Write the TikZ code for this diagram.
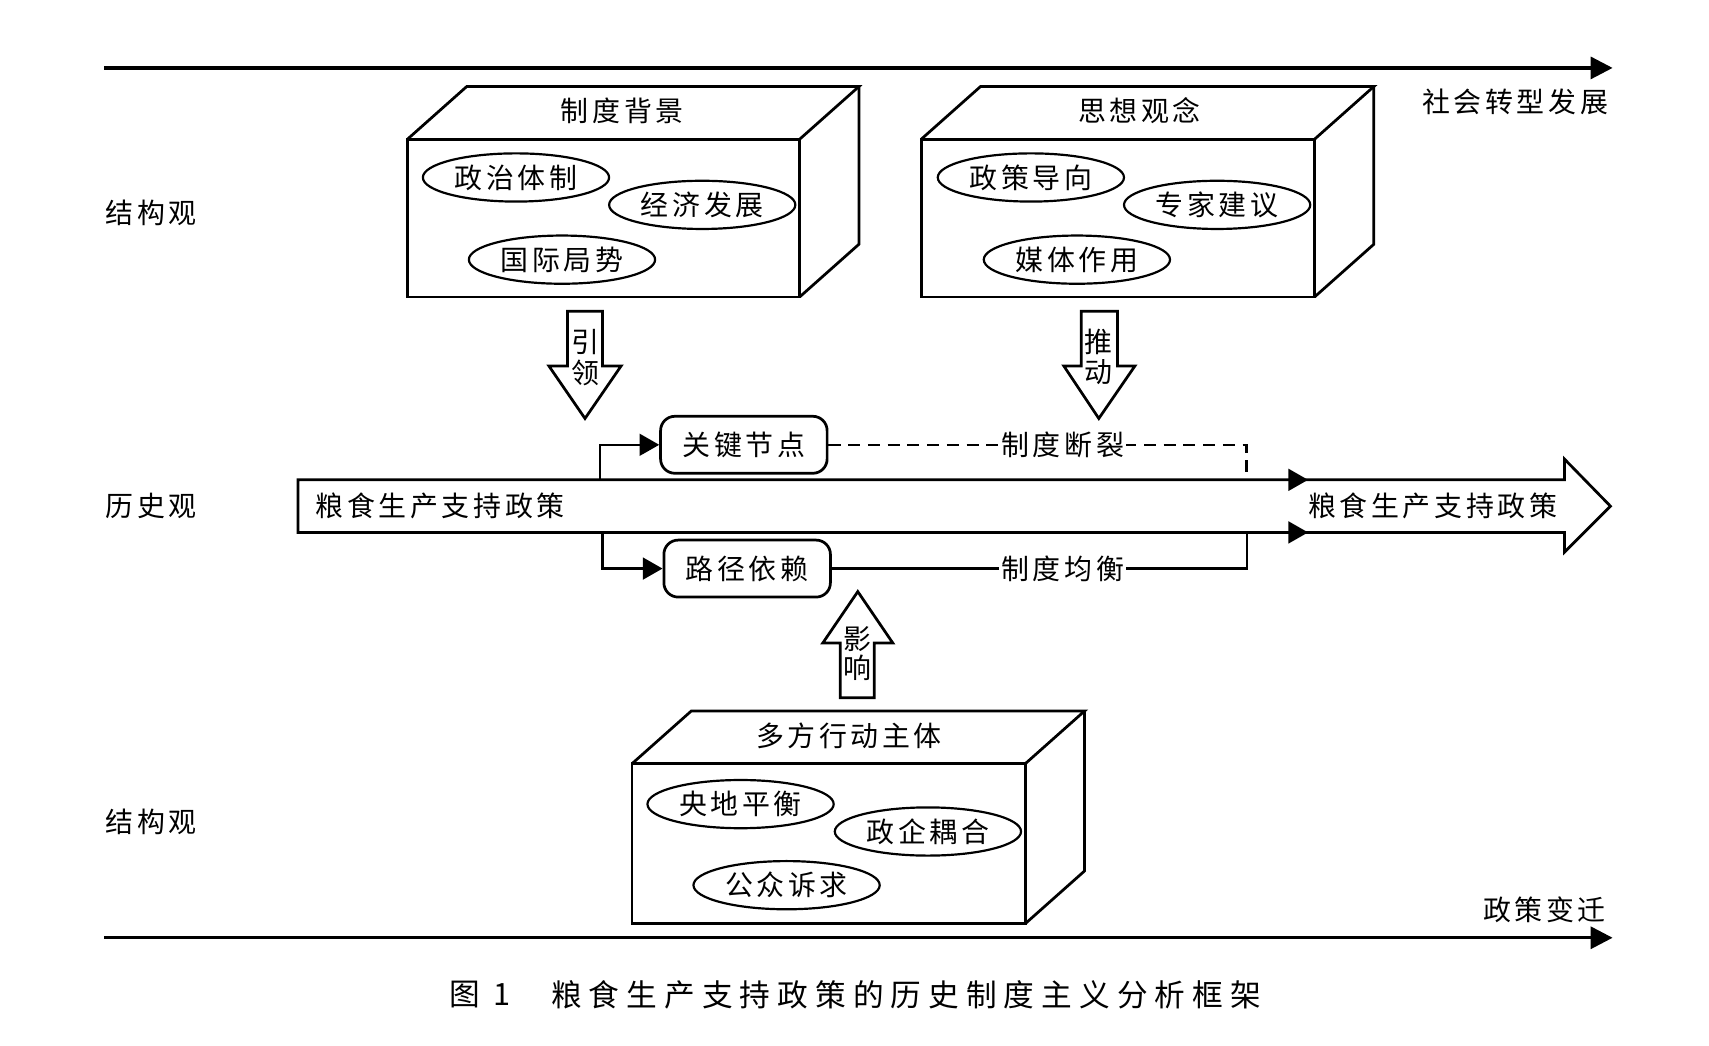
\documentclass[tikz,border=0pt]{standalone}
\usepackage{fontspec}
\setmainfont{Noto Sans CJK SC}
\newfontfamily\cjk[LetterSpace=13]{Noto Sans CJK SC}
\newfontfamily\capcjk[LetterSpace=23]{Noto Sans CJK SC}
\usetikzlibrary{shapes.geometric,arrows.meta}
\newcommand\txt{\cjk\fontsize{25.5}{30}\selectfont}
\newcommand\captxt{\capcjk\fontsize{28}{32}\selectfont}
\tikzset{
  axis/.style={line width=3pt,-{Triangle[length=20pt,width=20pt]}},
  boxline/.style={line width=2.5pt,line join=miter},
  ell/.style={ellipse,draw,line width=2pt,minimum width=170pt,minimum height=44pt,inner sep=0pt,font=\txt},
  lbl/.style={font=\txt,inner sep=2pt},
  rbox/.style={draw,rounded corners=13pt,line width=2.5pt,minimum width=152pt,minimum height=52pt,font=\txt,fill=white},
  conn/.style={line width=2pt,-{Triangle[length=18pt,width=20pt]}},
  blk/.style={draw,line width=2.5pt,fill=white,line join=miter},
}
\begin{document}
\begin{tikzpicture}[x=1pt,y=-1pt]
\useasboundingbox (0,0) rectangle (1560,954);
\fill[white] (0,0) rectangle (1560,954);

% axes
\coordinate (ta) at (95,62); \coordinate (tb) at (1472,62);
\draw[axis] (ta) -- (tb);
\node[lbl,anchor=east] (shehui) at (1470,93) {社会转型发展};
\coordinate (ba) at (95,856); \coordinate (bb) at (1472,856);
\draw[axis] (ba) -- (bb);
\node[lbl,anchor=east] (zhengce) at (1468,830) {政策变迁};

% side labels
\node[lbl] (jg1) at (138,194) {结构观};
\node[lbl] (ls) at (138,462) {历史观};
\node[lbl] (jg2) at (138,750) {结构观};

% box 1
\draw[boxline] (372,127) rectangle (730,271);
\draw[boxline] (372,127) -- (426,79) -- (784,79) -- (730,127);
\draw[boxline] (784,79) -- (784,223) -- (730,271);
\node[lbl] (t1) at (568,101) {制度背景};
\node[ell] (e11) at (471,162) {政治体制};
\node[ell] (e12) at (641,187) {经济发展};
\node[ell] (e13) at (513,237) {国际局势};

% box 2
\draw[boxline] (841,127) rectangle (1200,271);
\draw[boxline] (841,127) -- (895,79) -- (1254,79) -- (1200,127);
\draw[boxline] (1254,79) -- (1254,223) -- (1200,271);
\node[lbl] (t2) at (1040,101) {思想观念};
\node[ell] (e21) at (941,162) {政策导向};
\node[ell] (e22) at (1111,187) {专家建议};
\node[ell] (e23) at (983,237) {媒体作用};

% box 3
\draw[boxline] (577,697) rectangle (936,843);
\draw[boxline] (577,697) -- (631,649) -- (990,649) -- (936,697);
\draw[boxline] (990,649) -- (990,795) -- (936,843);
\node[lbl] (t3) at (775,672) {多方行动主体};
\node[ell] (e31) at (676,734) {央地平衡};
\node[ell] (e32) at (847,759) {政企耦合};
\node[ell] (e33) at (718,808) {公众诉求};

% block arrows
\draw[blk] (518,284) -- (550,284) -- (550,334) -- (567,334) -- (534,382) -- (501,334) -- (518,334) -- cycle;
\node[font=\txt,inner sep=0pt] (yin) at (534,312) {引};
\node[font=\txt,inner sep=0pt] (ling) at (534,340) {领};
\draw[blk] (987,284) -- (1020,284) -- (1020,334) -- (1036,334) -- (1003,382) -- (971,334) -- (987,334) -- cycle;
\node[font=\txt,inner sep=0pt] (tui) at (1003,312) {推};
\node[font=\txt,inner sep=0pt] (dong) at (1003,340) {动};
\draw[blk] (783,540) -- (815,587) -- (798,587) -- (798,637) -- (767,637) -- (767,587) -- (751,587) -- cycle;
\node[font=\txt,inner sep=0pt] (ying) at (783,583) {影};
\node[font=\txt,inner sep=0pt] (xiang) at (783,610) {响};

% big arrow
\draw[blk] (272,438) -- (1428,438) -- (1428,419) -- (1470,462) -- (1428,504) -- (1428,486) -- (272,486) -- cycle;
\node[lbl,anchor=west] (lsL) at (286,462) {粮食生产支持政策};
\node[lbl,anchor=west] (lsR) at (1192,462) {粮食生产支持政策};

% key nodes
\node[rbox] (guan) at (679,406) {关键节点};
\node[rbox] (lujing) at (682,519) {路径依赖};
\coordinate (k0) at (548,438);
\coordinate (l0) at (550,486);
\draw[conn] (k0) |- (guan.west);
\draw[conn] (l0) |- (lujing.west);
\coordinate (dk) at (1138,438);
\coordinate (dj) at (1138,486);
\draw[line width=2.3pt,dash pattern=on 11pt off 7pt] (guan.east) -| (dk);
\draw[line width=2pt] (lujing.east) -| (dj);
\node[lbl,fill=white] (duanlie) at (970,406) {制度断裂};
\node[lbl,fill=white] (junheng) at (970,519) {制度均衡};
\coordinate (a1s) at (1150,438); \coordinate (a1e) at (1194,438);
\coordinate (a2s) at (1150,486); \coordinate (a2e) at (1194,486);
\draw[conn] (a1s) -- (a1e);
\draw[conn] (a2s) -- (a2e);

% caption
\node[font=\captxt,anchor=west,inner sep=0pt] (cap1) at (410,908) {图 1};
\node[font=\captxt,anchor=west,inner sep=0pt] (cap2) at (503,908) {粮食生产支持政策的历史制度主义分析框架};
\end{tikzpicture}
\end{document}
